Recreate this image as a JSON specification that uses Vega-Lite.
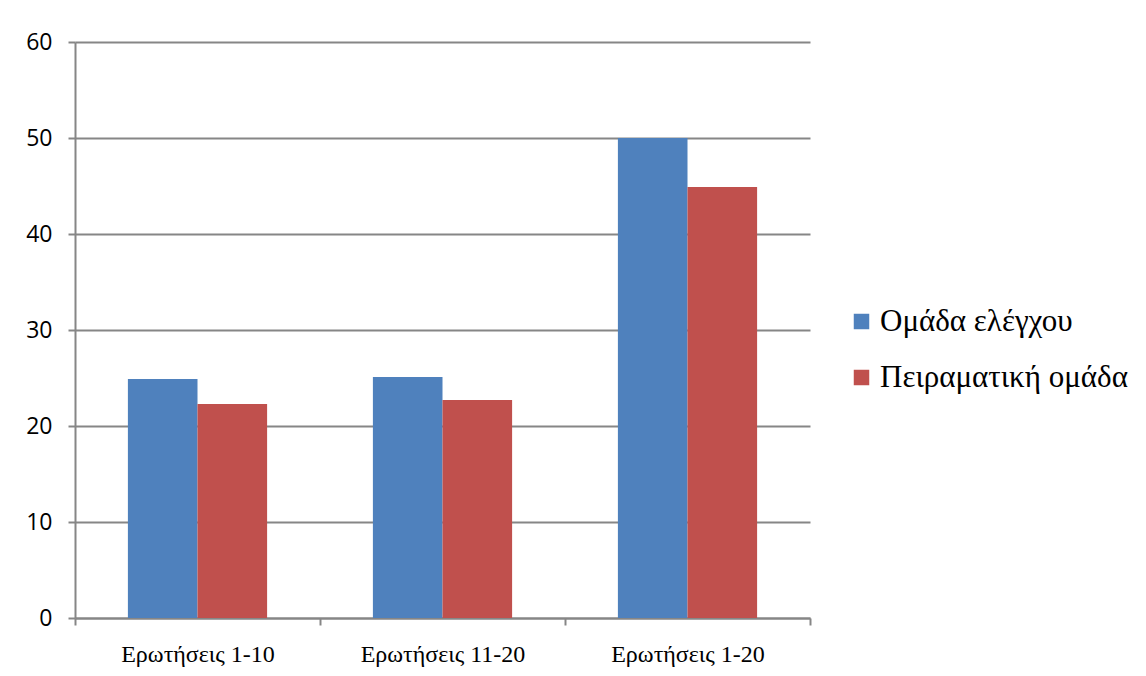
{
  "$schema": "https://vega.github.io/schema/vega-lite/v6.json",
  "autosize": {"type": "none"},
  "width": 735,
  "height": 576,
  "padding": {"left": 75, "top": 42, "right": 336, "bottom": 58},
  "background": "white",
  "data": {
    "values": [
      {"cat": "Ερωτήσεις 1-10", "group": "Ομάδα ελέγχου", "value": 24.9},
      {"cat": "Ερωτήσεις 1-10", "group": "Πειραματική ομάδα", "value": 22.3},
      {"cat": "Ερωτήσεις 11-20", "group": "Ομάδα ελέγχου", "value": 25.1},
      {"cat": "Ερωτήσεις 11-20", "group": "Πειραματική ομάδα", "value": 22.7},
      {"cat": "Ερωτήσεις 1-20", "group": "Ομάδα ελέγχου", "value": 50},
      {"cat": "Ερωτήσεις 1-20", "group": "Πειραματική ομάδα", "value": 44.9}
    ]
  },
  "mark": {"type": "bar"},
  "encoding": {
    "x": {
      "field": "cat", "type": "nominal", "sort": null,
      "scale": {"paddingInner": 0, "paddingOuter": 0},
      "axis": {
        "title": null, "labelAngle": 0, "tickBand": "extent",
        "labelFont": "Liberation Serif", "labelFontSize": 24, "labelColor": "black",
        "labelPadding": 17, "tickSize": 7, "tickColor": "#868686", "tickWidth": 2,
        "domainColor": "#868686", "domainWidth": 2, "labelOverlap": false
      }
    },
    "xOffset": {
      "field": "group", "type": "nominal",
      "scale": {"paddingInner": 0, "paddingOuter": 0.76}
    },
    "y": {
      "field": "value", "type": "quantitative",
      "scale": {"domain": [0, 60], "nice": false},
      "axis": {
        "title": null, "values": [0, 10, 20, 30, 40, 50, 60], "labelOverlap": false,
        "labelFont": "Open Sans", "labelFontSize": 23, "labelColor": "black",
        "labelPadding": 16, "tickSize": 7, "tickColor": "#868686", "tickWidth": 2,
        "domainColor": "#868686", "domainWidth": 2,
        "grid": true, "gridColor": "#868686", "gridWidth": 2
      }
    },
    "color": {
      "field": "group", "type": "nominal",
      "scale": {"domain": ["Ομάδα ελέγχου", "Πειραματική ομάδα"], "range": ["#4F81BD", "#C0504D"]},
      "legend": {
        "title": null, "orient": "none", "legendX": 771, "legendY": 264,
        "symbolType": "square", "symbolSize": 240, "symbolStrokeWidth": 0,
        "labelFont": "Liberation Serif", "labelFontSize": 31, "labelColor": "black",
        "labelLimit": 0, "rowPadding": 24, "labelOffset": 3
      }
    }
  },
  "config": {
    "view": {"stroke": null},
    "legend": {"labelFont": "Liberation Serif"}
  }
}
